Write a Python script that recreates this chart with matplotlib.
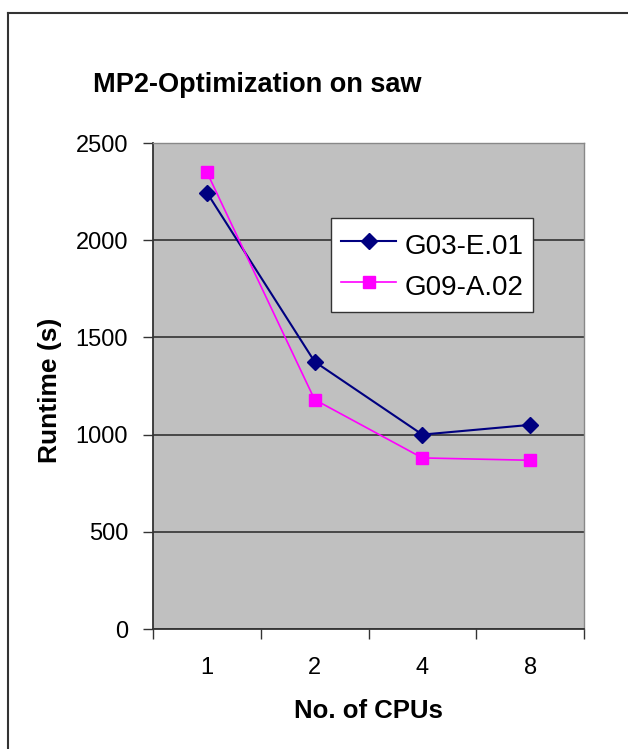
import numpy as np
import matplotlib as mpl
import matplotlib.pyplot as plt
from matplotlib.lines import Line2D

cpus = ['1', '2', '4', '8']
g03 = [2245, 1375, 1000, 1050]
g09 = [2350, 1180, 880, 868]
series_names = ['G03-E.01', 'G09-A.02']
yticks = [0, 500, 1000, 1500, 2000, 2500]

mpl.rcParams['font.family'] = ['Liberation Sans', 'DejaVu Sans']

fig = plt.figure(figsize=(6.28, 7.49), dpi=100)
ax = fig.add_axes([153/628, 120/749, 431/628, 486/749])
ax.set_facecolor('#C0C0C0')

x = np.arange(len(cpus))
ax.plot(x, g03, color='#000080', lw=1.5, marker='D', ms=8.5, label=series_names[0], zorder=3)
ax.plot(x, g09, color='#FF00FF', lw=1.2, marker='s', ms=8.5, label=series_names[1], zorder=3)

ax.set_xlim(-0.5, len(cpus) - 0.5)
ax.set_ylim(0, 2500)
ax.set_yticks(yticks)
ax.set_yticklabels([str(v) for v in yticks], fontsize=17)
ax.grid(axis='y', color='#333333', lw=1.2)
ax.set_axisbelow(True)

ax.set_xticks(np.arange(len(cpus) + 1) - 0.5)
ax.set_xticklabels([])
ax.set_xticks(x, minor=True)
ax.set_xticklabels(cpus, minor=True, fontsize=17)
ax.tick_params(axis='x', which='minor', length=0, pad=20)
ax.tick_params(axis='x', which='major', length=7, width=1, color='#333333')
ax.tick_params(axis='y', length=7, width=1, color='#333333', pad=11)

for s in ['left', 'bottom']:
    ax.spines[s].set_color('#333333')
    ax.spines[s].set_linewidth(1.3)
for s in ['top', 'right']:
    ax.spines[s].set_color('#888888')
    ax.spines[s].set_linewidth(1.0)

ax.set_xlabel('No. of CPUs', fontsize=18.5, fontweight='bold', va='center')
ax.xaxis.set_label_coords(0.5, (629 - 711) / 486)
ax.set_ylabel('Runtime (s)', fontsize=19, fontweight='bold', va='center')
ax.yaxis.set_label_coords((50 - 153) / 431, (629 - 390) / 486)
fig.text(257/628, 1 - 85/749, 'MP2-Optimization on saw', fontsize=19.5, fontweight='bold',
         ha='center', va='center')

leg = ax.legend(loc='upper left', bbox_to_anchor=((331-153)/431, (629-218)/486),
                borderaxespad=0, fontsize=20, fancybox=False, framealpha=1,
                edgecolor='#333333', handlelength=2.0, handletextpad=0.3,
                handleheight=1.5, borderpad=0.35, labelspacing=0.25)
leg.get_frame().set_linewidth(1.0)

fig.add_artist(Line2D([8/628, 1], [1 - 13/749, 1 - 13/749], color='#333333', lw=1.5))
fig.add_artist(Line2D([8/628, 8/628], [0, 1 - 13/749], color='#333333', lw=1.5))

fig.savefig('out.png', dpi=100)
